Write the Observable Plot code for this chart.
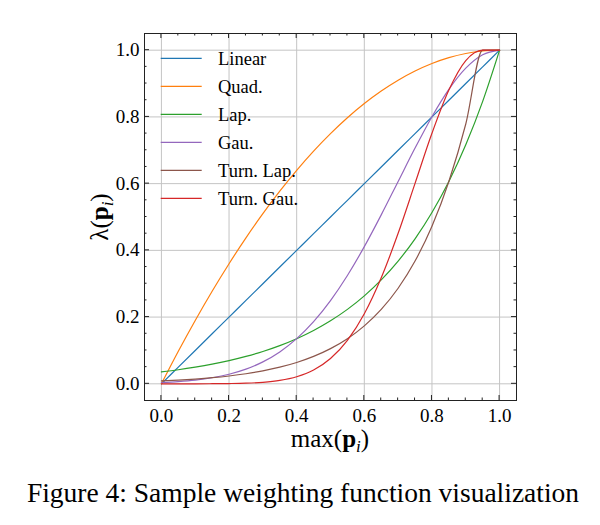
<!DOCTYPE html>
<html>
<head>
<meta charset="utf-8">
<script src="https://cdn.jsdelivr.net/npm/d3@7"></script>
<script src="https://cdn.jsdelivr.net/npm/@observablehq/plot@0.6"></script>
<style>
  html, body { margin: 0; padding: 0; background: #fff; }
  #wrap { position: relative; width: 600px; height: 525px; overflow: hidden; }
  #caption { position: absolute; left: 0; width: 606px; top: 479px; text-align: center;
    font-family: "Liberation Serif", serif; font-size: 27.5px; line-height: 1; color: #000; white-space: nowrap; }
</style>
</head>
<body>
<div id="wrap">
  <div id="chart"></div>
  <div id="caption">Figure 4: Sample weighting function visualization</div>
</div>
<script>
// ---- data ----
const xs      = [0, 0.05, 0.1, 0.15, 0.2, 0.25, 0.3, 0.35, 0.4, 0.45, 0.5, 0.55, 0.6, 0.65, 0.7, 0.75, 0.8, 0.85, 0.9, 0.95, 1.0];
const linear  = [0, 0.05, 0.1, 0.15, 0.2, 0.25, 0.3, 0.35, 0.4, 0.45, 0.5, 0.55, 0.6, 0.65, 0.7, 0.75, 0.8, 0.85, 0.9, 0.95, 1.0];
const quad    = [0, 0.0975, 0.19, 0.2775, 0.36, 0.4375, 0.51, 0.5775, 0.64, 0.6975, 0.75, 0.7975, 0.84, 0.8775, 0.91, 0.9375, 0.96, 0.9775, 0.99, 0.9975, 1];
const lap     = [0.0357, 0.0421, 0.0498, 0.0588, 0.0695, 0.0821, 0.0970, 0.1146, 0.1353, 0.1599, 0.1889, 0.2231, 0.2636, 0.3114, 0.3679, 0.4346, 0.5134, 0.6065, 0.7165, 0.8465, 1];
const gau     = [0.0039, 0.0067, 0.0111, 0.0181, 0.0286, 0.0439, 0.0657, 0.0956, 0.1353, 0.1863, 0.2494, 0.3247, 0.4111, 0.5063, 0.6065, 0.7066, 0.8007, 0.8825, 0.9460, 0.9862, 1];
const turnLap = [0.0087, 0.0111, 0.0143, 0.0183, 0.0235, 0.0302, 0.0388, 0.0498, 0.0639, 0.0821, 0.1054, 0.1353, 0.1738, 0.2231, 0.2865, 0.3679, 0.4724, 0.6065, 0.7788, 1, 1];
const turnGau = [0, 0, 0.0001, 0.0003, 0.0008, 0.0019, 0.0046, 0.0102, 0.0212, 0.0414, 0.0758, 0.1303, 0.2100, 0.3178, 0.4511, 0.6007, 0.7508, 0.8804, 0.9687, 1, 1];

const seriesNames  = ["Linear", "Quad.", "Lap.", "Gau.", "Turn. Lap.", "Turn. Gau."];
const seriesValues = [linear, quad, lap, gau, turnLap, turnGau];
const seriesColors = ["#1f77b4", "#ff7f0e", "#2ca02c", "#9467bd", "#8c564b", "#d62728"];

const xTicks = [0, 0.2, 0.4, 0.6, 0.8, 1.0];
const yTicks = [0, 0.2, 0.4, 0.6, 0.8, 1.0];
const minorTicks = [0.05, 0.1, 0.15, 0.25, 0.3, 0.35, 0.45, 0.5, 0.55, 0.65, 0.7, 0.75, 0.85, 0.9, 0.95];

const rows = seriesNames.flatMap((name, i) => xs.map((x, j) => ({ x, y: seriesValues[i][j], name })));

const W = 600, H = 460, ML = 144, MR = 84, MT = 33, MB = 60;
const serif = "'Liberation Serif', 'Times New Roman', serif";

const plot = Plot.plot({
  width: W, height: H,
  marginLeft: ML, marginRight: MR, marginTop: MT, marginBottom: MB,
  x: { domain: [-0.05, 1.05] },
  y: { domain: [-0.05, 1.05] },
  color: { domain: seriesNames, range: seriesColors },
  style: { fontFamily: serif, fontSize: "19px", background: "white", color: "black", overflow: "visible" },
  marks: [
    Plot.gridX(xTicks, { stroke: "#c4c4c4", strokeOpacity: 1, strokeWidth: 1 }),
    Plot.gridY(yTicks, { stroke: "#c4c4c4", strokeOpacity: 1, strokeWidth: 1 }),
    Plot.line(rows, { x: "x", y: "y", z: "name", stroke: "name", curve: "monotone-x", strokeWidth: 1.2 }),
    Plot.axisX(xTicks, { tickSize: 0, tickPadding: 8, tickFormat: d3.format(".1f"), label: null, fontSize: 19 }),
    Plot.axisY(yTicks, { tickSize: 0, tickPadding: 5, tickFormat: d3.format(".1f"), label: null, fontSize: 19 }),
    Plot.frame({ stroke: "#222", strokeWidth: 1 })
  ]
});

document.getElementById("chart").appendChild(plot);

// ---- inward ticks on all four sides, placed with the plot's scales ----
const sx = plot.scale("x"), sy = plot.scale("y");
const svg = d3.select(plot);
const fLeft = ML, fRight = W - MR, fTop = MT, fBottom = H - MB;
const tg = svg.append("g").attr("stroke", "#222").attr("stroke-width", 1);
function drawTicks(vals, len) {
  for (const v of vals) {
    const px = sx.apply(v), py = sy.apply(v);
    tg.append("line").attr("x1", px).attr("x2", px).attr("y1", fBottom).attr("y2", fBottom - len);
    tg.append("line").attr("x1", px).attr("x2", px).attr("y1", fTop).attr("y2", fTop + len);
    tg.append("line").attr("y1", py).attr("y2", py).attr("x1", fLeft).attr("x2", fLeft + len);
    tg.append("line").attr("y1", py).attr("y2", py).attr("x1", fRight).attr("x2", fRight - len);
  }
}
drawTicks(xTicks, 5);
drawTicks(minorTicks, 2.5);

// ---- legend (top-left inside the frame) ----
const lg = svg.append("g").attr("text-anchor", "start");
seriesNames.forEach((name, i) => {
  const yy = 58.3 + i * 28;
  lg.append("line").attr("x1", 160.7).attr("x2", 201.7).attr("y1", yy).attr("y2", yy)
    .attr("stroke", seriesColors[i]).attr("stroke-width", 1.2);
  lg.append("text").attr("x", 218).attr("y", yy).attr("dy", "0.35em").attr("text-anchor", "start")
    .attr("font-family", serif).attr("font-size", 18.5).attr("fill", "black").text(name);
});

// ---- axis labels ----
const xl = svg.append("text").attr("x", (fLeft + fRight) / 2).attr("y", 447)
  .attr("text-anchor", "middle").attr("font-family", serif).attr("font-size", 25).attr("fill", "black");
xl.append("tspan").text("max(");
xl.append("tspan").attr("font-weight", "bold").text("p");
xl.append("tspan").attr("font-style", "italic").attr("font-size", 17).attr("dy", 5).text("i");
xl.append("tspan").attr("dy", -5).text(")");

const yl = svg.append("text").attr("transform", "translate(108,217) rotate(-90)")
  .attr("text-anchor", "middle").attr("font-family", serif).attr("font-size", 25).attr("fill", "black");
yl.append("tspan").text("λ(");
yl.append("tspan").attr("font-weight", "bold").text("p");
yl.append("tspan").attr("font-style", "italic").attr("font-size", 17).attr("dy", 5).text("i");
yl.append("tspan").attr("dy", -5).text(")");
</script>
</body>
</html>
